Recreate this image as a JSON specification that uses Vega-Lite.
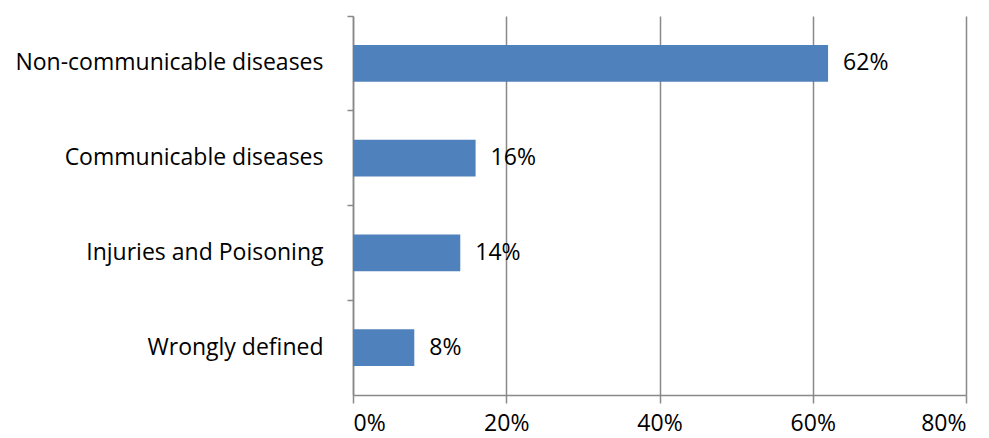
{
  "$schema": "https://vega.github.io/schema/vega-lite/v6.json",
  "autosize": {"type": "none"},
  "padding": {"left": 353, "top": 16, "right": 23, "bottom": 43},
  "width": 613,
  "height": 379,
  "background": "white",
  "config": {
    "view": {"stroke": null},
    "font": "Open Sans",
    "axis": {"labelFont": "Open Sans", "labelColor": "#000000", "labelFontSize": 23}
  },
  "data": {
    "values": [
      {"cause": "Non-communicable diseases", "share": 0.62},
      {"cause": "Communicable diseases", "share": 0.16},
      {"cause": "Injuries and Poisoning", "share": 0.14},
      {"cause": "Wrongly defined", "share": 0.08}
    ]
  },
  "encoding": {
    "y": {
      "field": "cause",
      "type": "nominal",
      "sort": null,
      "scale": {"paddingInner": 0, "paddingOuter": 0},
      "axis": {
        "title": null,
        "bandPosition": 0,
        "domainColor": "#898989",
        "domainWidth": 1.5,
        "tickColor": "#898989",
        "tickWidth": 1.5,
        "tickSize": 6,
        "labelPadding": 24,
        "labelLimit": 0,
        "grid": false
      }
    },
    "x": {
      "field": "share",
      "type": "quantitative",
      "scale": {"domain": [0, 0.8], "nice": false},
      "axis": {
        "title": null,
        "format": ".0%",
        "values": [0, 0.2, 0.4, 0.6, 0.8],
        "grid": true,
        "gridColor": "#898989",
        "gridWidth": 1.5,
        "domainColor": "#898989",
        "domainWidth": 1.5,
        "tickColor": "#898989",
        "tickWidth": 1.5,
        "tickSize": 8,
        "labelPadding": 9
      }
    }
  },
  "layer": [
    {"mark": {"type": "bar", "color": "#4F81BD", "height": {"band": 0.39}}},
    {
      "mark": {"type": "text", "align": "left", "dx": 15, "fontSize": 23, "color": "#000000"},
      "encoding": {"text": {"field": "share", "type": "quantitative", "format": ".0%"}}
    }
  ]
}
